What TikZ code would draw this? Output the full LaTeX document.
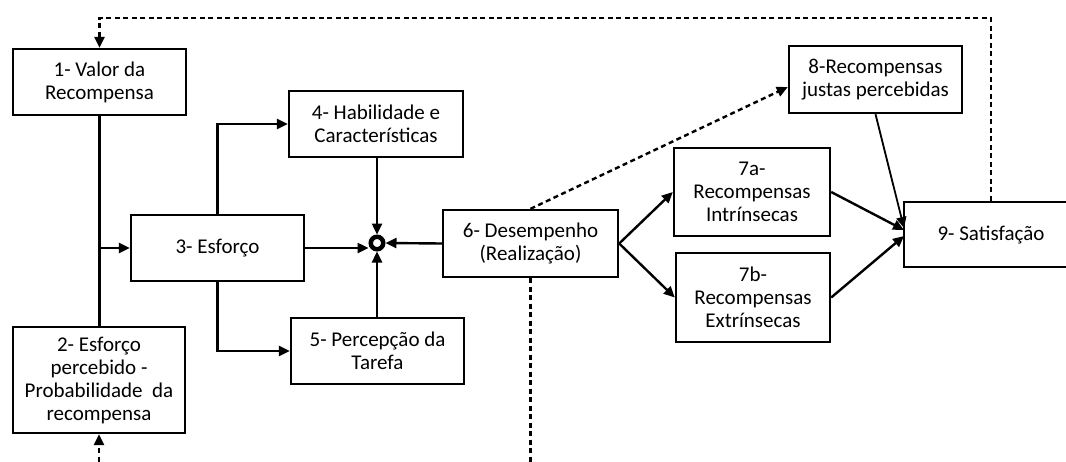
\documentclass[tikz,border=0pt]{standalone}
\usepackage{fontspec}
\setmainfont{Carlito}
\usetikzlibrary{arrows.meta}

\begin{document}
\begin{tikzpicture}[x=1pt,y=-1pt,
  box/.style={draw, line width=2.4pt, align=center, inner sep=0pt,
    font=\fontsize{21}{23}\selectfont},
  arr/.style={line width=2.4pt, -{Triangle[length=11pt,width=10pt]}},
  plain/.style={line width=2.4pt},
  thinarr/.style={line width=1.8pt, -{Triangle[length=11pt,width=10pt]}},
  dashline/.style={line width=2.4pt, dash pattern=on 5pt off 3.5pt},
  dasharr/.style={dashline, -{Triangle[length=11pt,width=10pt]}},
  junction/.style={circle, draw, line width=4.5pt, minimum size=12.5pt, inner sep=0pt}
]
\useasboundingbox (0,0) rectangle (1066,461);

% process boxes
\node[box, minimum width=173pt, minimum height=66pt] (b1) at (99.5,82) {1- Valor da\\Recompensa};
\node[box, minimum width=172pt, minimum height=106pt] (b2) at (99,380) {2- Esforço\\percebido -\\Probabilidade\ \ da\\recompensa};
\node[box, minimum width=173pt, minimum height=66pt] (b3) at (217.5,248) {3- Esforço};
\node[box, minimum width=174pt, minimum height=66pt] (b4) at (376,124) {4- Habilidade e\\Características};
\node[box, minimum width=173pt, minimum height=66pt] (b5) at (377.5,351) {5- Percepção da\\Tarefa};
\node[box, minimum width=175pt, minimum height=67pt] (b6) at (530.5,243.5) {6- Desempenho\\(Realização)};
\node[box, minimum width=156pt, minimum height=88pt] (b7a) at (752,192) {7a-\\Recompensas\\Intrínsecas};
\node[box, minimum width=154pt, minimum height=89pt] (b7b) at (753,297.5) {7b-\\Recompensas\\Extrínsecas};
\node[box, minimum width=173pt, minimum height=67pt] (b8) at (875.5,79.5) {8-Recompensas\\justas percebidas};
\node[box, minimum width=174pt, minimum height=65pt] (b9) at (991,234.5) {9- Satisfação};

% summing junction
\node[junction] (j) at (377,243) {};

% helper points
\coordinate (top) at (0,18);
\coordinate (bottom) at (0,470);
\coordinate (in9a) at (904,230);
\coordinate (in9b) at (904,236);
\coordinate (in9c) at (904,228);

% effort chain
\draw[plain] (b1.south) -- (b1.south |- b2.north);
\draw[arr] (b1.south |- b3.west) -- (b3.west);
\draw[arr] (b3.north) -- (b3.north |- b4.west) -- (b4.west);
\draw[arr] (b3.south) -- (b3.south |- b5.west) -- (b5.west);

% inputs to the junction
\draw[arr] (b3.east) -- (b3.east -| j.west);
\draw[arr] (j |- b4.south) -- (j.north);
\draw[arr] (j |- b5.north) -- (j.south);
\draw[arr] (b6.west) -- (j.east);

% rewards
\draw[arr] (b6.east) -- (b7a.west);
\draw[arr] (b6.east) -- (b7b.west);
\draw[arr] (b7a.east) -- (in9a);
\draw[arr] (b7b.east) -- (in9b);
\draw[thinarr] (b8.south) -- (in9c);

% feedback (dashed)
\draw[dasharr] (b6.north) -- ([yshift=-7.5pt]b8.west);
\draw[dashline] (b6.south) -- (b6.south |- bottom);
\draw[dasharr] (b2.south |- bottom) -- (b2.south);
\draw[dasharr] (b9.north) -- (b9.north |- top) -- (b1.north |- top) -- (b1.north);
\end{tikzpicture}
\end{document}
